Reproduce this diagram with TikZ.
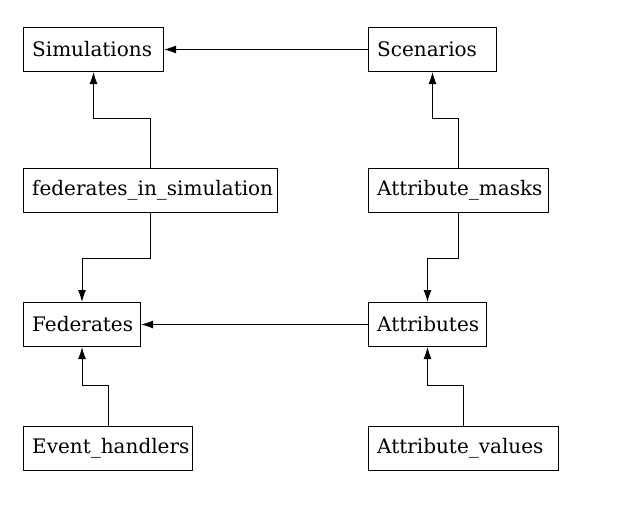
\documentclass[tikz,border=0pt]{standalone}
\usepackage{fontspec}
\setmainfont{DejaVu Serif}
\usetikzlibrary{arrows.meta}

\tikzset{every picture/.style={line width=0.75pt}}
\tikzset{
  tbl/.style={draw, anchor=north west, inner xsep=6.5pt, inner ysep=0pt,
    minimum height=33pt, align=left, font=\fontsize{15}{18}\selectfont},
  link/.style={-{Latex[length=9pt,width=6pt]}}
}

\begin{document}
\begin{tikzpicture}[x=0.75pt,y=0.75pt,yscale=-1,xscale=1]
\useasboundingbox (0,0) rectangle (638,514);

% Tables
\node[tbl, text width=92pt] (sim) at (23,27) {Simulations};
\node[tbl, text width=83pt] (scen) at (368,27) {Scenarios};
\node[tbl, text width=177.5pt] (fedsim) at (23,168) {federates\_in\_simulation};
\node[tbl, text width=122pt] (masks) at (368,168) {Attribute\_masks};
\node[tbl, text width=74.75pt] (fed) at (23,302) {Federates};
\node[tbl, text width=75.5pt] (attr) at (368,302) {Attributes};
\node[tbl, text width=113.75pt] (evt) at (23,426) {Event\_handlers};
\node[tbl, text width=129.5pt] (vals) at (368,426) {Attribute\_values};

% References
\draw[link] (scen.west) -- (sim.east);
\draw[link] (attr.west) -- (fed.east);
\draw[link] (fedsim.north) -- ++(0,-50) -| (sim.south);
\draw[link] (masks.north) -- ++(0,-50) -| (scen.south);
\draw[link] (fedsim.south) -- ++(0,45) -| (fed.north);
\draw[link] (masks.south) -- ++(0,45) -| (attr.north);
\draw[link] (evt.north) -- ++(0,-41) -| (fed.south);
\draw[link] (vals.north) -- ++(0,-41) -| (attr.south);

\end{tikzpicture}
\end{document}
